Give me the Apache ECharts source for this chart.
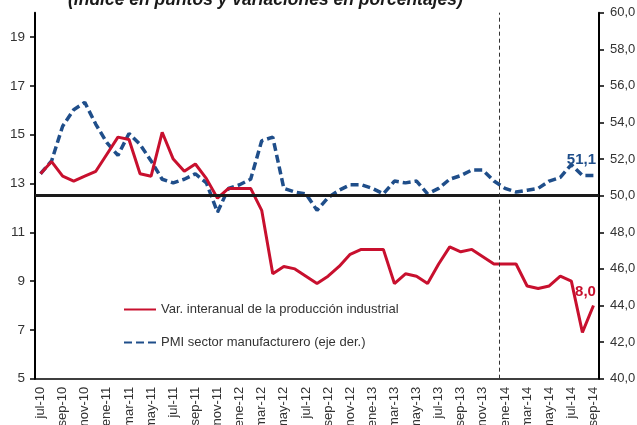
<!DOCTYPE html>
<html>
<head>
<meta charset="utf-8">
<script src="https://cdn.jsdelivr.net/npm/echarts@6/dist/echarts.min.js"></script>
<style>html,body{margin:0;padding:0;background:#fff}#c{width:637px;height:425px}</style>
</head>
<body>
<div id="c"></div>
<script>
var months = ['jul-10','ago-10','sep-10','oct-10','nov-10','dic-10',
  'ene-11','feb-11','mar-11','abr-11','may-11','jun-11','jul-11','ago-11','sep-11','oct-11','nov-11','dic-11',
  'ene-12','feb-12','mar-12','abr-12','may-12','jun-12','jul-12','ago-12','sep-12','oct-12','nov-12','dic-12',
  'ene-13','feb-13','mar-13','abr-13','may-13','jun-13','jul-13','ago-13','sep-13','oct-13','nov-13','dic-13',
  'ene-14','feb-14','mar-14','abr-14','may-14','jun-14','jul-14','ago-14','sep-14'];
var produccion = [13.4,13.9,13.3,13.1,13.3,13.5,
  14.2,14.9,14.8,13.4,13.3,15.1,14.0,13.5,13.8,13.2,12.4,12.8,
  12.8,12.8,11.9,9.3,9.6,9.5,9.2,8.9,9.2,9.6,10.1,10.3,
  10.3,10.3,8.9,9.3,9.2,8.9,9.7,10.4,10.2,10.3,10.0,9.7,
  9.7,9.7,8.8,8.7,8.8,9.2,9.0,6.9,8.0];
var pmi = [51.2,51.9,53.8,54.7,55.1,53.9,
  52.9,52.2,53.4,52.8,51.9,50.9,50.7,50.9,51.2,50.7,49.1,50.4,
  50.6,50.9,53.0,53.2,50.4,50.2,50.1,49.2,49.9,50.3,50.6,50.6,
  50.4,50.1,50.8,50.7,50.8,50.1,50.4,50.9,51.1,51.4,51.4,50.8,
  50.4,50.2,50.3,50.4,50.8,51.0,51.7,51.1,51.1];
var leftTicks = [5,7,9,11,13,15,17,19];
var rightMin = 40, rightMax = 60, rightStep = 2;
var refLevel = 50;
var dividerMonth = 'ene-14';
var seriesNames = ['Var. interanual de la producción industrial','PMI sector manufacturero (eje der.)'];
var titleText = '(índice en puntos y variaciones en porcentajes)';

var RED = '#C8102E', BLUE = '#1F4E8A', FONT = 'Liberation Sans, Arial, sans-serif';
function fmt(v){ return v.toFixed(1).replace('.', ','); }
var last = months.length - 1;

var chart = echarts.init(document.getElementById('c'));
chart.setOption({
  animation: false,
  textStyle: {fontFamily: FONT},
  graphic: [{
    type: 'text', left: 68, top: -9,
    style: {text: titleText, font: 'italic bold 17.5px ' + FONT, fill: '#1a1a1a'}
  }],
  grid: {left: 35, right: 38, top: 12.7, bottom: 46.3, containLabel: false, outerBoundsMode: 'none'},
  legend: {
    orient: 'vertical', left: 118, top: 298, itemWidth: 32, itemHeight: 12, itemGap: 20,
    itemStyle: {color: 'transparent', borderWidth: 0, opacity: 0},
    textStyle: {fontSize: 13, color: '#333', fontFamily: FONT},
    data: seriesNames
  },
  xAxis: [{
    type: 'category', data: months, boundaryGap: true,
    axisLine: {lineStyle: {color: '#000', width: 1.5}},
    axisTick: {interval: 1, length: 5, lineStyle: {color: '#000', width: 1.5}},
    axisLabel: {interval: 1, rotate: 90, fontSize: 13, color: '#333', margin: 8, fontFamily: FONT},
    splitLine: {show: false}
  }, {
    type: 'value', min: 0, max: months.length, show: false
  }],
  yAxis: [{
    type: 'value', min: 5, max: 20, position: 'left',
    axisLine: {show: true, lineStyle: {color: '#000', width: 2}},
    axisTick: {show: true, length: 5, customValues: leftTicks, lineStyle: {color: '#000', width: 1.5}},
    axisLabel: {customValues: leftTicks, fontSize: 13.5, color: '#333', margin: 10, fontFamily: FONT},
    splitLine: {show: false}
  }, {
    type: 'value', min: rightMin, max: rightMax, interval: rightStep, position: 'right',
    axisLine: {show: true, lineStyle: {color: '#000', width: 2}},
    axisTick: {show: true, length: 5, lineStyle: {color: '#000', width: 1.5}},
    axisLabel: {formatter: fmt, fontSize: 13, color: '#333', margin: 11, fontFamily: FONT},
    splitLine: {show: false}
  }],
  series: [{
    name: seriesNames[1], type: 'line', yAxisIndex: 1, data: pmi,
    symbol: 'none', color: BLUE,
    lineStyle: {color: BLUE, width: 3.5, type: [8, 4]},
    markLine: {
      silent: true, symbol: 'none', label: {show: false},
      lineStyle: {color: '#1a1a1a', width: 3, type: 'solid'},
      data: [{yAxis: refLevel}]
    },
    markPoint: {
      silent: true, symbol: 'circle', symbolSize: 0,
      label: {show: true, position: 'top', offset: [-12, -3], formatter: function(p){ return fmt(p.value); },
        color: BLUE, fontWeight: 'bold', fontSize: 15, fontFamily: FONT},
      data: [{coord: [last, pmi[last]], value: pmi[last]}]
    },
    z: 2
  }, {
    name: seriesNames[0], type: 'line', yAxisIndex: 0, data: produccion,
    symbol: 'none', color: RED,
    lineStyle: {color: RED, width: 3},
    markPoint: {
      silent: true, symbol: 'circle', symbolSize: 0,
      label: {show: true, position: 'top', offset: [-8, -1], formatter: function(p){ return fmt(p.value); },
        color: RED, fontWeight: 'bold', fontSize: 15, fontFamily: FONT},
      data: [{coord: [last, produccion[last]], value: produccion[last]}]
    },
    z: 3
  }, {
    name: 'divisor', type: 'line', xAxisIndex: 1, yAxisIndex: 0, data: [],
    markLine: {
      silent: true, symbol: 'none', label: {show: false},
      lineStyle: {color: '#333', width: 1, type: [4, 3]},
      data: [{xAxis: months.indexOf(dividerMonth)}]
    },
    z: 1
  }]
});
</script>
</body>
</html>
